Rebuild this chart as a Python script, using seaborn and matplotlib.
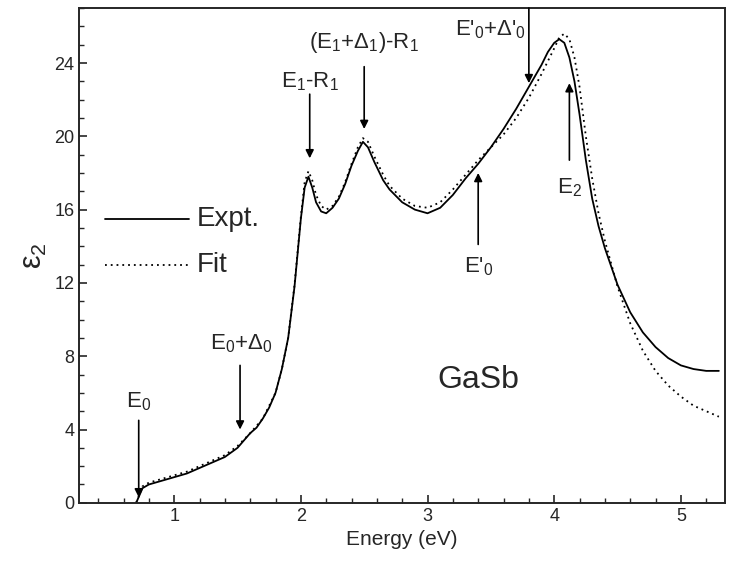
import numpy as np
import pandas as pd
import matplotlib
matplotlib.use("Agg")
import matplotlib.pyplot as plt
from matplotlib.ticker import MultipleLocator
import seaborn as sns

# Experimental data (energy in eV, epsilon_2)
expt_E = [0.70, 0.75, 0.80, 0.90, 1.00, 1.10, 1.20, 1.30, 1.40, 1.50, 1.55, 1.60, 1.65,
          1.70, 1.75, 1.80, 1.85, 1.90, 1.95, 2.00, 2.03, 2.06, 2.09, 2.12, 2.16, 2.20,
          2.25, 2.30, 2.35, 2.40, 2.45, 2.49, 2.53, 2.58, 2.65, 2.70, 2.80, 2.90, 3.00,
          3.10, 3.20, 3.30, 3.40, 3.50, 3.60, 3.70, 3.80, 3.90, 3.95, 4.00, 4.04, 4.08,
          4.12, 4.16, 4.20, 4.25, 4.30, 4.35, 4.40, 4.50, 4.60, 4.70, 4.80, 4.90, 5.00,
          5.10, 5.20, 5.30]
expt_eps = [0.0, 0.8, 1.0, 1.2, 1.4, 1.6, 1.9, 2.2, 2.5, 3.0, 3.4, 3.8, 4.1,
            4.6, 5.2, 6.0, 7.3, 9.0, 11.8, 15.5, 17.2, 17.8, 17.2, 16.4, 15.9, 15.8,
            16.1, 16.6, 17.4, 18.4, 19.2, 19.7, 19.4, 18.6, 17.6, 17.1, 16.4, 16.0, 15.8,
            16.1, 16.8, 17.7, 18.5, 19.4, 20.4, 21.5, 22.7, 23.9, 24.6, 25.1, 25.3, 25.1,
            24.3, 23.0, 21.2, 18.7, 16.6, 15.1, 13.9, 11.9, 10.4, 9.3, 8.5, 7.9, 7.5,
            7.3, 7.2, 7.2]

# Fit data
fit_E = [0.70, 0.75, 0.80, 0.90, 1.00, 1.10, 1.20, 1.30, 1.40, 1.50, 1.60, 1.70,
         1.80, 1.85, 1.90, 1.95, 2.00, 2.03, 2.06, 2.09, 2.12, 2.16, 2.20, 2.25, 2.30,
         2.35, 2.40, 2.45, 2.49, 2.53, 2.58, 2.65, 2.70, 2.80, 2.90, 3.00, 3.10, 3.20,
         3.30, 3.40, 3.50, 3.60, 3.70, 3.80, 3.90, 3.95, 4.00, 4.04, 4.08, 4.12, 4.16,
         4.20, 4.25, 4.30, 4.35, 4.40, 4.50, 4.60, 4.70, 4.80, 4.90, 5.00, 5.10, 5.20,
         5.30]
fit_eps = [0.0, 0.9, 1.1, 1.3, 1.5, 1.7, 2.0, 2.3, 2.6, 3.1, 3.8, 4.6,
           6.0, 7.3, 9.0, 11.9, 15.6, 17.5, 18.1, 17.6, 16.8, 16.2, 16.0, 16.2, 16.7,
           17.5, 18.5, 19.4, 19.9, 19.7, 18.9, 17.9, 17.3, 16.6, 16.2, 16.1, 16.4, 17.1,
           17.9, 18.7, 19.4, 20.1, 21.0, 22.1, 23.4, 24.1, 24.8, 25.4, 25.6, 25.3, 24.3,
           22.7, 20.0, 17.7, 15.8, 14.3, 11.8, 9.8, 8.3, 7.2, 6.4, 5.8, 5.3, 5.0,
           4.7]

# Transition annotations: label, x, arrow tail y, arrow head y, label x, label y
ann_labels = [r"E$_0$", r"E$_0$+$\Delta_0$", r"E$_1$-R$_1$", r"(E$_1$+$\Delta_1$)-R$_1$",
              r"E'$_0$+$\Delta$'$_0$", r"E'$_0$", r"E$_2$"]
ann_x = [0.72, 1.52, 2.07, 2.50, 3.80, 3.40, 4.12]
ann_tail = [4.5, 7.5, 22.3, 23.8, 27.0, 14.1, 18.7]
ann_head = [0.3, 4.0, 18.8, 20.4, 22.9, 18.0, 22.9]
ann_tx = [0.72, 1.53, 2.07, 2.50, 3.50, 3.40, 4.12]
ann_ty = [5.5, 8.7, 23.0, 25.1, 25.8, 12.9, 17.2]

sns.set_style("ticks")
plt.rcParams["font.family"] = ["Liberation Sans", "DejaVu Sans"]
plt.rcParams["mathtext.fontset"] = "custom"
plt.rcParams["mathtext.rm"] = "Liberation Sans"
plt.rcParams["mathtext.it"] = "Liberation Sans"

df_expt = pd.DataFrame({"E": expt_E, "eps": expt_eps})
df_fit = pd.DataFrame({"E": fit_E, "eps": fit_eps})

fig = plt.figure(figsize=(7.4, 5.74), dpi=100)
ax = fig.add_axes([0.107, 0.124, 0.873, 0.862])

sns.lineplot(data=df_fit, x="E", y="eps", ax=ax, color="black", lw=1.3,
             linestyle=(0, (1, 2.2)), sort=False)
sns.lineplot(data=df_expt, x="E", y="eps", ax=ax, color="black", lw=1.3, sort=False)

ax.set_xlim(0.25, 5.35)
ax.set_ylim(0, 27)
ax.xaxis.set_major_locator(MultipleLocator(1))
ax.xaxis.set_minor_locator(MultipleLocator(0.2))
ax.yaxis.set_major_locator(MultipleLocator(4))
ax.yaxis.set_minor_locator(MultipleLocator(1))
ax.tick_params(which="both", direction="in", top=False, right=False, labelsize=13)
ax.tick_params(which="major", length=6, width=1.2)
ax.tick_params(which="minor", length=3.5, width=1)
for s in ax.spines.values():
    s.set_linewidth(1.4)

ax.set_xlabel("Energy (eV)", fontsize=15)
ax.set_ylabel(r"$\varepsilon_2$", fontsize=22, labelpad=4)

# Legend drawn as in the original (inside plot)
ax.plot([0.45, 1.12], [15.5, 15.5], color="black", lw=1.3)
ax.plot([0.45, 1.12], [13.0, 13.0], color="black", lw=1.3, linestyle=(0, (1, 2.2)))
ax.text(1.18, 15.5, "Expt.", fontsize=20, va="center", ha="left")
ax.text(1.18, 13.0, "Fit", fontsize=20, va="center", ha="left")

ax.text(3.4, 6.7, "GaSb", fontsize=23, ha="center", va="center")

for lab, x, t, h, tx, ty in zip(ann_labels, ann_x, ann_tail, ann_head, ann_tx, ann_ty):
    ax.annotate("", xy=(x, h), xytext=(x, t),
                arrowprops=dict(arrowstyle="-|>", color="black", lw=1.2,
                                mutation_scale=12, shrinkA=0, shrinkB=0))
    ax.text(tx, ty, lab, fontsize=16, ha="center", va="center")

fig.savefig("out.png", dpi=100)
